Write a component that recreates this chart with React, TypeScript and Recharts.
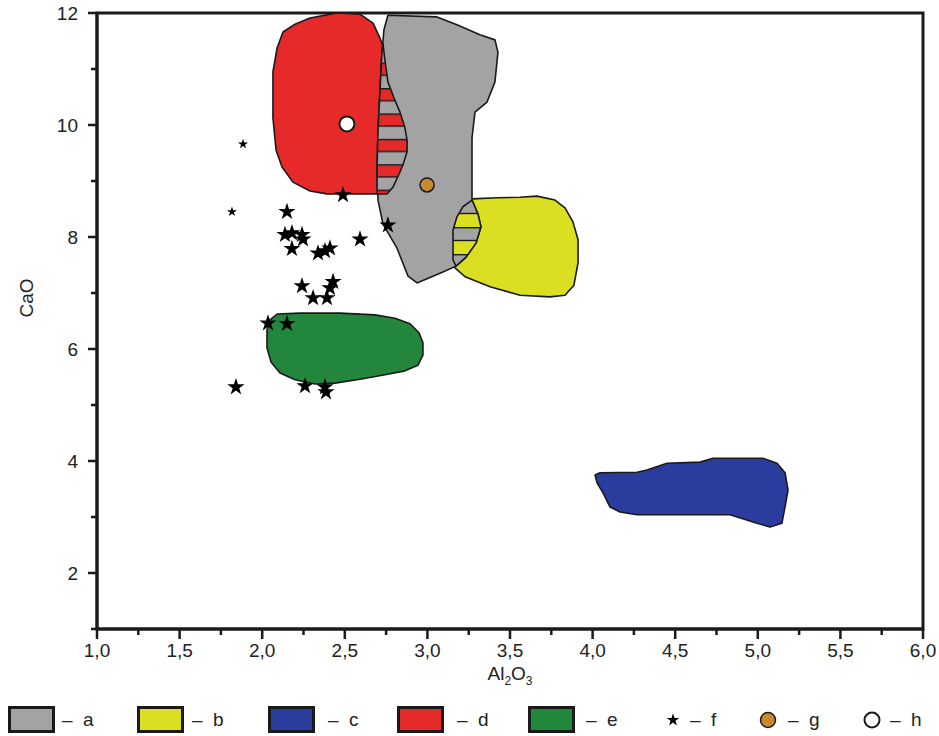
import React from 'react';
import { ScatterChart, Scatter, XAxis, YAxis, ReferenceArea, Legend, Symbols, Label } from 'recharts';

// ---------- data ----------
const xTicks = [1, 1.25, 1.5, 1.75, 2, 2.25, 2.5, 2.75, 3, 3.25, 3.5, 3.75, 4, 4.25, 4.5, 4.75, 5, 5.25, 5.5, 5.75, 6];
const yTicks = [1, 2, 3, 4, 5, 6, 7, 8, 9, 10, 11, 12];

// a – gray field
const fieldA: number[][] = [
  [2.761, 11.96], [3.058, 11.93], [3.179, 11.79], [3.318, 11.61], [3.409, 11.52], [3.427, 11.3],
  [3.409, 10.77], [3.361, 10.41], [3.288, 10.23], [3.27, 9.77], [3.27, 8.66], [3.306, 8.41],
  [3.324, 8.18], [3.294, 7.89], [3.234, 7.64], [3.173, 7.48], [3.094, 7.375], [2.937, 7.18],
  [2.883, 7.3], [2.816, 7.8], [2.731, 8.23], [2.701, 8.66], [2.695, 9.2], [2.701, 9.91],
  [2.713, 10.625], [2.725, 11.3], [2.737, 11.7],
];
// b – yellow field
const fieldB: number[][] = [
  [3.27, 8.68], [3.421, 8.7], [3.561, 8.71], [3.663, 8.73], [3.772, 8.66], [3.833, 8.52],
  [3.881, 8.27], [3.912, 7.95], [3.912, 7.54], [3.887, 7.14], [3.833, 6.96], [3.742, 6.93],
  [3.561, 6.96], [3.379, 7.11], [3.228, 7.29], [3.167, 7.45], [3.155, 7.68], [3.155, 8.04],
  [3.179, 8.36], [3.215, 8.54],
];
// c – blue field
const fieldC: number[][] = [
  [4.015, 3.75], [4.045, 3.79], [4.269, 3.8], [4.329, 3.84], [4.45, 3.96], [4.65, 3.98],
  [4.729, 4.05], [5.031, 4.05], [5.116, 3.96], [5.165, 3.79], [5.183, 3.48], [5.165, 3.18],
  [5.146, 2.89], [5.074, 2.82], [4.995, 2.89], [4.832, 3.04], [4.753, 3.04], [4.269, 3.04],
  [4.166, 3.09], [4.105, 3.18], [4.063, 3.43], [4.027, 3.61],
];
// d – red field
const fieldD: number[][] = [
  [2.126, 11.66], [2.199, 11.8], [2.289, 11.91], [2.453, 12.0], [2.592, 11.98], [2.671, 11.82],
  [2.713, 11.55], [2.737, 11.375], [2.743, 11.16], [2.761, 10.77], [2.798, 10.48], [2.834, 10.23],
  [2.864, 9.95], [2.877, 9.73], [2.877, 9.52], [2.852, 9.29], [2.834, 9.16], [2.792, 8.89],
  [2.755, 8.77], [2.392, 8.77], [2.289, 8.82], [2.186, 8.98], [2.12, 9.25], [2.084, 9.55],
  [2.065, 10.125], [2.065, 10.95], [2.09, 11.375],
];
// e – green field
const fieldE: number[][] = [
  [2.09, 6.625], [2.229, 6.64], [2.471, 6.64], [2.683, 6.61], [2.804, 6.55], [2.895, 6.45],
  [2.949, 6.29], [2.973, 6.11], [2.973, 5.89], [2.943, 5.71], [2.864, 5.61], [2.743, 5.54],
  [2.592, 5.46], [2.441, 5.39], [2.32, 5.375], [2.199, 5.45], [2.108, 5.57], [2.053, 5.77],
  [2.029, 6.02], [2.029, 6.34], [2.047, 6.52],
];
// overlap a ∩ d (hatched)
const overlapAD: number[][] = [
  [2.731, 11.45], [2.743, 11.16], [2.761, 10.77], [2.798, 10.48], [2.834, 10.23], [2.864, 9.95],
  [2.877, 9.73], [2.877, 9.52], [2.852, 9.29], [2.834, 9.16], [2.792, 8.89], [2.755, 8.77],
  [2.695, 8.77], [2.695, 9.2], [2.701, 9.91], [2.713, 10.625], [2.725, 11.3],
];
// overlap a ∩ b (hatched)
const overlapAB: number[][] = [
  [3.27, 8.66], [3.306, 8.41], [3.324, 8.18], [3.294, 7.89], [3.234, 7.64], [3.173, 7.48],
  [3.155, 7.59], [3.155, 7.86], [3.155, 8.125], [3.179, 8.36], [3.215, 8.54],
];
// f – stars
const starsF: number[][] = [
  [2.15, 8.45], [2.489, 8.75], [2.138, 8.04], [2.18, 8.07], [2.241, 8.04], [2.247, 7.96],
  [2.18, 7.79], [2.338, 7.71], [2.38, 7.75], [2.41, 7.8], [2.592, 7.96], [2.761, 8.21],
  [2.241, 7.125], [2.429, 7.2], [2.41, 7.09], [2.308, 6.91], [2.392, 6.91], [2.035, 6.46],
  [2.15, 6.45], [1.841, 5.32], [2.259, 5.34], [2.38, 5.32], [2.386, 5.23],
];
const smallStarsF: number[][] = [[1.884, 9.66], [1.817, 8.45]];
// g, h – single points
const pointG: number[][] = [[2.998, 8.93]];
const pointH: number[][] = [[2.513, 10.02]];

const legendLabels = ['a', 'b', 'c', 'd', 'e', 'f', 'g', 'h'];

// ---------- styles ----------
const GRAY = '#a3a3a3';
const YELLOW = '#dbdf22';
const BLUE = '#2a3d9e';
const RED = '#e62a2a';
const GREEN = '#22873d';
const BROWN = '#c98a2e';
const INK = '#1a1a1a';
const FONT = '"Liberation Sans", Arial, Helvetica, sans-serif';

const toPts = (arr: number[][]) => arr.map(([x, y]) => ({ x, y }));

const NoShape = () => <g />;
const BigStar = (p: any) => <Symbols cx={p.cx} cy={p.cy} type="star" size={92} fill="#000" />;
const SmallStar = (p: any) => <Symbols cx={p.cx} cy={p.cy} type="star" size={32} fill="#000" />;
const DotG = (p: any) => <circle cx={p.cx} cy={p.cy} r={7} fill={BROWN} stroke={INK} strokeWidth={1.5} />;
const DotH = (p: any) => <circle cx={p.cx} cy={p.cy} r={7.5} fill="#fff" stroke={INK} strokeWidth={2} />;

const XTick = (props: any) => {
  const { x, y, payload } = props;
  const v = payload.value as number;
  const major = Math.abs(v * 2 - Math.round(v * 2)) < 1e-6;
  return (
    <g>
      <line x1={x} y1={y} x2={x} y2={y + (major ? 10 : 6)} stroke={INK} strokeWidth={2.5} />
      {major && (
        <text x={x} y={y + 28} textAnchor="middle" fontSize={19} fontFamily={FONT} fill="#222">
          {v.toFixed(1).replace('.', ',')}
        </text>
      )}
    </g>
  );
};

const YTick = (props: any) => {
  const { x, y, payload } = props;
  const v = payload.value as number;
  const major = v % 2 === 0;
  return (
    <g>
      <line x1={x - (major ? 9 : 6)} y1={y} x2={x} y2={y} stroke={INK} strokeWidth={2.5} />
      {major && (
        <text x={x - 19} y={y + 7} textAnchor="end" fontSize={19} fontFamily={FONT} fill="#222">
          {v}
        </text>
      )}
    </g>
  );
};

const XLabel = (props: any) => {
  const vb = props.viewBox || { x: 97, y: 629, width: 826, height: 70 };
  return (
    <text x={vb.x + vb.width / 2} y={vb.y + 51} textAnchor="middle" fontSize={19} fontFamily={FONT} fill="#222">
      Al<tspan fontSize={12} dy={5}>2</tspan>
      <tspan dy={-5}>O</tspan>
      <tspan fontSize={12} dy={5}>3</tspan>
    </text>
  );
};

const YLabel = (props: any) => {
  const vb = props.viewBox || { x: 37, y: 13, width: 60, height: 616 };
  const cx = vb.x - 4;
  const cy = vb.y + 285;
  return (
    <text x={0} y={0} transform={`translate(${cx},${cy}) rotate(-90)`} textAnchor="middle" fontSize={19} fontFamily={FONT} fill="#222">
      CaO
    </text>
  );
};

const boxColors = [GRAY, YELLOW, BLUE, RED, GREEN];
const boxLefts = [8, 137, 268, 397, 528];
const textLefts = [62, 192, 328, 457, 586, 690, 788, 890];

const LegendContent = () => (
  <div style={{ position: 'relative', width: 939, height: 37, fontFamily: FONT, fontSize: 19, color: '#222' }}>
    {boxColors.map((c, i) => (
      <div
        key={'b' + i}
        style={{
          position: 'absolute', left: boxLefts[i], top: 7, width: 47, height: 27,
          boxSizing: 'border-box', border: `3px solid ${INK}`, background: c,
        }}
      />
    ))}
    <svg style={{ position: 'absolute', left: 663, top: 10 }} width={20} height={22}>
      <Symbols cx={10} cy={11} type="star" size={50} fill="#000" />
    </svg>
    <svg style={{ position: 'absolute', left: 758, top: 10 }} width={20} height={22}>
      <circle cx={10} cy={11} r={7.5} fill={BROWN} stroke={INK} strokeWidth={1.5} />
    </svg>
    <svg style={{ position: 'absolute', left: 862, top: 10 }} width={20} height={22}>
      <circle cx={10} cy={11} r={7.5} fill="#fff" stroke={INK} strokeWidth={2} />
    </svg>
    {legendLabels.map((l, i) => (
      <span
        key={'t' + i}
        style={{ position: 'absolute', left: textLefts[i], top: 10, lineHeight: '22px', whiteSpace: 'pre' }}
      >
        {'–  ' + l}
      </span>
    ))}
  </div>
);

export default function App() {
  const fieldLine = (fill: string) => ({ fill, stroke: INK, strokeWidth: 1.6, strokeLinejoin: 'round' as const });
  return (
    <div style={{ fontFamily: FONT, position: 'absolute', left: 0, top: 0 }}>
      <ScatterChart width={939} height={736} margin={{ top: 13, right: 16, bottom: 0, left: 37 }}>
        <defs>
          <pattern id="hatchAD" patternUnits="userSpaceOnUse" x={0} y={88} width={40} height={25.4}>
            <rect x={0} y={0} width={40} height={12.7} fill={RED} />
            <rect x={0} y={12.7} width={40} height={12.7} fill={GRAY} />
            <rect x={0} y={0} width={40} height={1.4} fill={INK} />
            <rect x={0} y={12.0} width={40} height={1.4} fill={INK} />
          </pattern>
          <pattern id="hatchAB" patternUnits="userSpaceOnUse" x={0} y={200} width={40} height={27}>
            <rect x={0} y={0} width={40} height={13.5} fill={GRAY} />
            <rect x={0} y={13.5} width={40} height={13.5} fill={YELLOW} />
            <rect x={0} y={0} width={40} height={1.4} fill={INK} />
            <rect x={0} y={12.8} width={40} height={1.4} fill={INK} />
          </pattern>
        </defs>
        <XAxis
          type="number"
          dataKey="x"
          domain={[1, 6]}
          ticks={xTicks}
          interval={0}
          allowDataOverflow
          height={70}
          tickSize={0}
          tickMargin={0}
          tickLine={false}
          tick={<XTick />}
          axisLine={{ stroke: INK, strokeWidth: 3 }}
        >
          <Label content={<XLabel />} />
        </XAxis>
        <YAxis
          type="number"
          dataKey="y"
          domain={[1, 12]}
          ticks={yTicks}
          interval={0}
          allowDataOverflow
          width={60}
          tickSize={0}
          tickMargin={0}
          tickLine={false}
          tick={<YTick />}
          axisLine={{ stroke: INK, strokeWidth: 3 }}
        >
          <Label content={<YLabel />} />
        </YAxis>
        <ReferenceArea x1={1} x2={6} y1={1} y2={12} fill="none" stroke={INK} strokeWidth={3} />

        <Scatter name="b" data={toPts(fieldB)} line={fieldLine(YELLOW)} lineJointType="linearClosed" shape={NoShape} isAnimationActive={false} legendType="none" />
        <Scatter name="c" data={toPts(fieldC)} line={fieldLine(BLUE)} lineJointType="linearClosed" shape={NoShape} isAnimationActive={false} legendType="none" />
        <Scatter name="d" data={toPts(fieldD)} line={fieldLine(RED)} lineJointType="linearClosed" shape={NoShape} isAnimationActive={false} legendType="none" />
        <Scatter name="e" data={toPts(fieldE)} line={fieldLine(GREEN)} lineJointType="linearClosed" shape={NoShape} isAnimationActive={false} legendType="none" />
        <Scatter name="a" data={toPts(fieldA)} line={fieldLine(GRAY)} lineJointType="linearClosed" shape={NoShape} isAnimationActive={false} legendType="none" />
        <Scatter name="ad" data={toPts(overlapAD)} line={fieldLine('url(#hatchAD)')} lineJointType="linearClosed" shape={NoShape} isAnimationActive={false} legendType="none" />
        <Scatter name="ab" data={toPts(overlapAB)} line={fieldLine('url(#hatchAB)')} lineJointType="linearClosed" shape={NoShape} isAnimationActive={false} legendType="none" />

        <Scatter name="f" data={toPts(starsF)} shape={BigStar} isAnimationActive={false} legendType="none" />
        <Scatter name="f2" data={toPts(smallStarsF)} shape={SmallStar} isAnimationActive={false} legendType="none" />
        <Scatter name="g" data={toPts(pointG)} shape={DotG} isAnimationActive={false} legendType="none" />
        <Scatter name="h" data={toPts(pointH)} shape={DotH} isAnimationActive={false} legendType="none" />

        <Legend verticalAlign="bottom" height={37} content={<LegendContent />} wrapperStyle={{ left: 0, width: 939 }} />
      </ScatterChart>
    </div>
  );
}
